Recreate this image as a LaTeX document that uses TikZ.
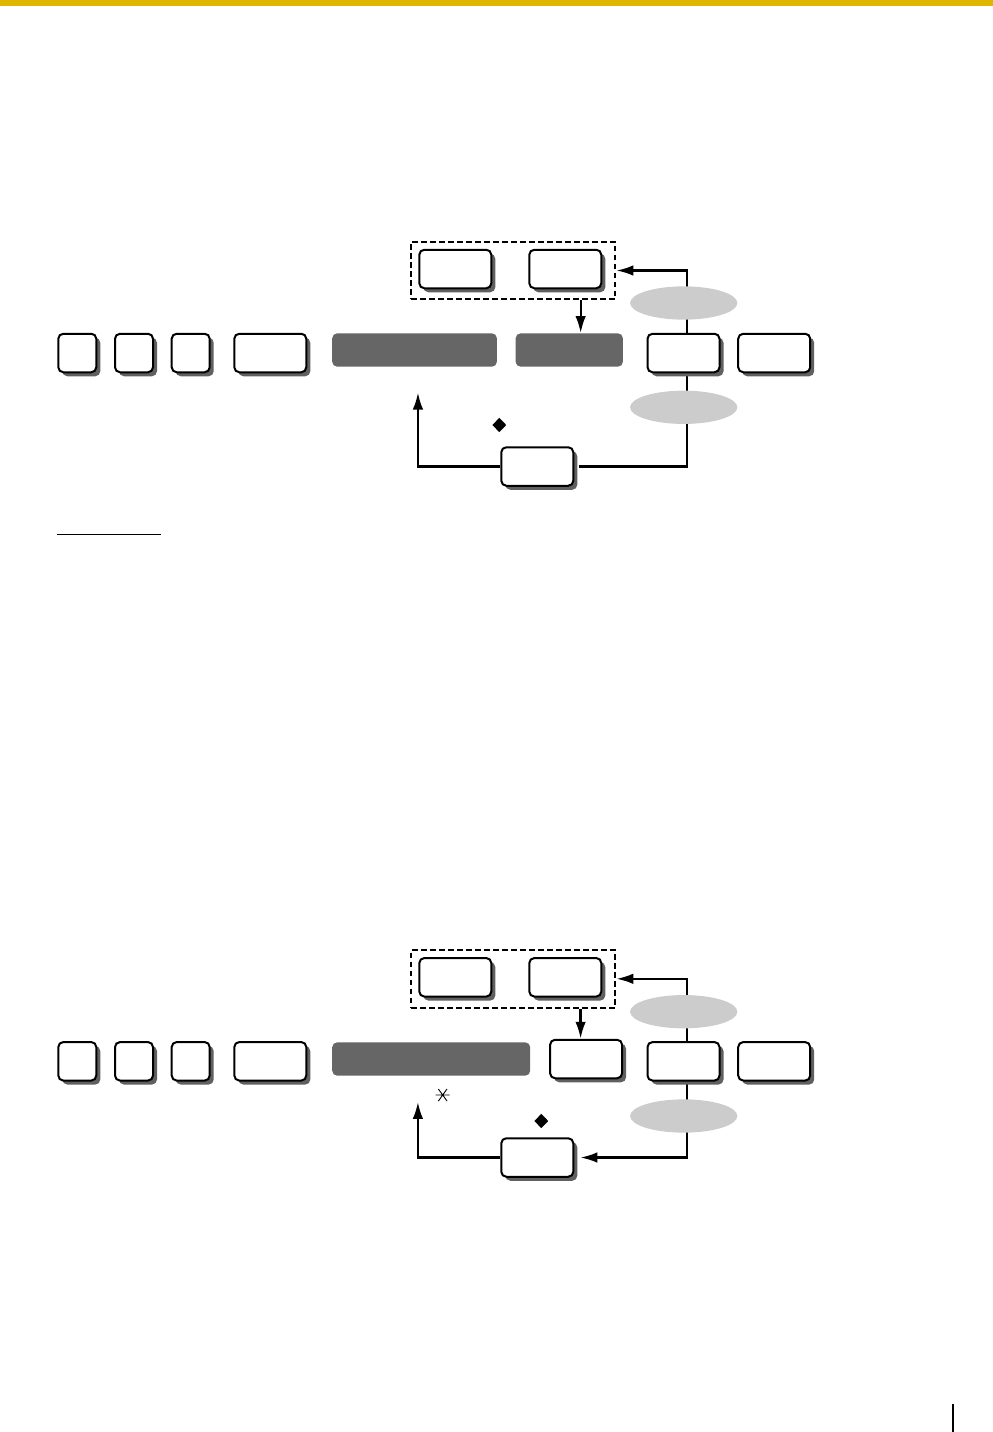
\documentclass[tikz,border=0pt]{standalone}
\usepackage{tikz}
\usetikzlibrary{positioning,calc,shapes.geometric,arrows.meta,shadows,fit,backgrounds}
\definecolor{PageGold}{RGB}{224,181,0}
\definecolor{KeyShadow}{RGB}{96,96,96}
\definecolor{DispGray}{RGB}{102,102,102}
\definecolor{CondGray}{RGB}{204,204,204}

\tikzset{
  key/.style={draw,line width=2pt,fill=white,rounded corners=5pt,minimum width=38pt,minimum height=38.5pt,inner sep=0pt,
    drop shadow={shadow xshift=4pt,shadow yshift=-4pt,fill=KeyShadow,opacity=1}},
  widekey/.style={key,minimum width=72pt},
  disp/.style={fill=DispGray,rounded corners=5pt,minimum height=33.4pt,inner sep=0pt},
  cond/.style={ellipse,fill=CondGray,minimum width=107.3pt,minimum height=33.3pt,inner sep=0pt},
  grpbox/.style={draw,line width=2pt,dash pattern=on 5.5pt off 3.5pt,inner sep=7pt},
  flag/.style={diamond,fill=black,minimum width=14pt,minimum height=14.5pt,inner sep=0pt},
  flow/.style={line width=2.3pt}
}

\begin{document}
\begin{tikzpicture}[x=1pt,y=-1pt,>={Latex[length=17pt,width=10.5pt]}]
\useasboundingbox (0,0) rectangle (993,1432);
\fill[PageGold] (0,0) rectangle (993,5.7);
\draw[line width=1.5pt] (57.3,534.3) -- (160.7,534.3);
\draw[line width=1.8pt] (952.7,1404) -- (952.7,1432);

% upper procedure
\node[key] (a1) at (77.3,353) {};
\node[key,right=16.7pt of a1] (a2) {};
\node[key,right=16.7pt of a2] (a3) {};
\node[widekey,right=22.6pt of a3] (a4) {};
\node[disp,minimum width=164.7pt,right=24.7pt of a4,yshift=3pt] (adisp) {};
\node[disp,minimum width=107.3pt,right=18.3pt of adisp] (aname) {};
\node[widekey,right=23.4pt of aname,yshift=-3pt] (asel) {};
\node[widekey,right=16.7pt of asel] (astore) {};
\node[widekey] (aup1) at (455.3,269) {};
\node[widekey] (aup2) at (565.3,269) {};
\node[grpbox,fit={(aup1.north west) ([shift={(6,3)}]aup2.south east)}] (agrp) {};
\node[cond] (anext) at (683.7,303) {};
\node[cond] (aprev) at (683.7,407.3) {};
\node[widekey] (aback) at (537.3,466.5) {};
\node[flag] (aflag) at (499.3,425) {};
\coordinate (ain) at ([xshift=11.4pt]aname.north);
\begin{scope}[on background layer]
\draw[flow,->] ([xshift=3.5pt]asel.north) |- (agrp.east);
\draw[flow,->] (ain |- agrp.south) -- (ain);
\draw[flow] ([xshift=3.5pt]asel.south) |- ([xshift=5pt]aback.east);
\draw[flow,->] (aback.west) -| ([xshift=3.4pt,yshift=-25.6pt]adisp.south);
\end{scope}

% lower procedure
\node[key] (b1) at (77.3,1061.3) {};
\node[key,right=16.7pt of b1] (b2) {};
\node[key,right=16.7pt of b2] (b3) {};
\node[widekey,right=22.6pt of b3] (b4) {};
\node[disp,minimum width=198pt,right=24.7pt of b4,yshift=2.3pt] (bdisp) {};
\node[widekey,right=18.7pt of bdisp] (bname) {};
\node[widekey,right=23.4pt of bname,yshift=-2.3pt] (bsel) {};
\node[widekey,right=16.7pt of bsel] (bstore) {};
\node[widekey] (bup1) at (455.3,977.3) {};
\node[widekey] (bup2) at (565.3,977.3) {};
\node[grpbox,fit={(bup1.north west) ([shift={(6,3)}]bup2.south east)}] (bgrp) {};
\node[cond] (bnext) at (683.7,1011.7) {};
\node[cond] (bprev) at (683.7,1116) {};
\node[widekey] (bback) at (537.3,1157.5) {};
\node[flag] (bflag) at (541.3,1121) {};
\coordinate (bstar) at (442.7,1095);
\draw[line width=0.9pt] (bstar) ++(-7,0) -- ++(14,0)
  (bstar) ++(-4.3,-6) -- ++(8.6,12)
  (bstar) ++(-4.3,6) -- ++(8.6,-12);
\coordinate (bin) at ([xshift=-5.5pt]bname.north);
\begin{scope}[on background layer]
\draw[flow,->] ([xshift=3.5pt]bsel.north) |- (bgrp.east);
\draw[flow,->] (bin |- bgrp.south) -- (bin);
\draw[flow,->] ([xshift=3.5pt]bsel.south) |- ([xshift=6pt]bback.east);
\draw[flow,->] (bback.west) -| ([xshift=-13.3pt,yshift=-26pt]bdisp.south);
\end{scope}
\end{tikzpicture}
\end{document}
